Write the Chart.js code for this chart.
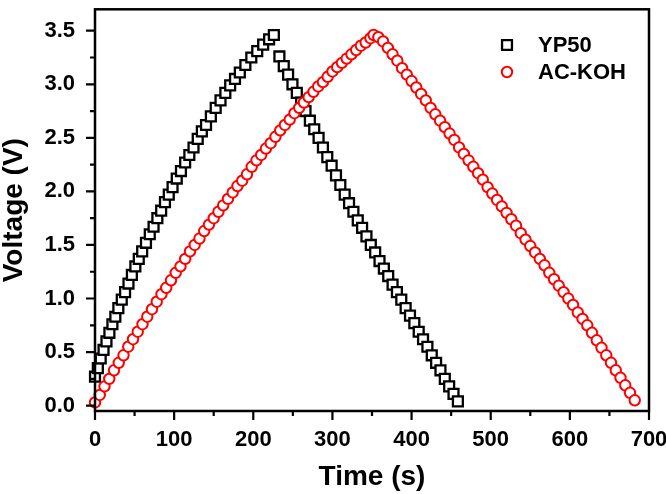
<!DOCTYPE html>
<html><head><meta charset="utf-8">
<script src="https://cdn.jsdelivr.net/npm/chart.js@4.4.1/dist/chart.umd.min.js"></script>
<style>html,body{margin:0;padding:0;background:#fff}#wrap{width:666px;height:494px;position:relative}</style>
</head><body><div id="wrap"><canvas id="c" width="666" height="494"></canvas></div>
<script>
const seriesNames = ['YP50', 'AC-KOH'];
const ypTime = [0,3.6,7.2,10.8,14.5,18.2,22,25.7,29.5,33.8,38,42.3,46.6,51,55.3,59.6,64.4,69.2,74,78.8,83.6,88.4,93.2,98,103.3,108.6,113.9,119.2,124.5,129.8,135,140.3,146.4,152.5,158.6,164.7,170.8,176.9,183,190,197.5,205,212.5,220,226,
  233,238.5,244,249.5,255,260.5,266,271.5,277,282.5,288,293.5,299,304.5,310,315.5,321,326.5,332,337.5,343,348.5,354,359.5,365,370.5,376,381.5,387,392.5,398,403.5,409,414.5,420,425.5,431,436.5,442,447.5,453,458.5];
const ypVoltage = [0.27,0.35,0.44,0.52,0.60,0.68,0.76,0.83,0.91,0.99,1.06,1.14,1.22,1.30,1.37,1.44,1.52,1.60,1.67,1.75,1.82,1.90,1.97,2.04,2.12,2.19,2.27,2.34,2.41,2.49,2.56,2.62,2.70,2.78,2.85,2.92,2.99,3.05,3.11,3.18,3.25,3.31,3.37,3.42,3.46,
  3.26,3.17,3.09,3.00,2.92,2.83,2.75,2.66,2.58,2.50,2.41,2.32,2.24,2.15,2.06,1.97,1.89,1.81,1.73,1.66,1.58,1.50,1.43,1.35,1.28,1.21,1.13,1.06,0.99,0.91,0.84,0.77,0.69,0.62,0.55,0.47,0.40,0.33,0.25,0.18,0.11,0.04];
const acTime = [0,6,12,18,24,30,36,42,48,54,60,66,72,78,84,90,96,102,108,114,120,126,132,138,144,150,156,162,168,174,180,186,192,198,204,210,216,222,228,234,240,246,252,258,264,270,276,282,288,294,300,306,312,318,324,330,336,342,348,352,
  358,364,370,376,382,388,394,400,406,412,418,424,430,436,442,448,454,460,466,472,478,484,490,496,502,508,514,520,526,532,538,544,550,556,562,568,574,580,586,592,598,604,610,616,622,628,634,640,646,652,658,664,670,676,682];
const acVoltage = [0.03,0.10,0.18,0.25,0.33,0.40,0.47,0.55,0.62,0.69,0.76,0.83,0.90,0.97,1.04,1.10,1.17,1.24,1.30,1.37,1.44,1.50,1.56,1.63,1.69,1.75,1.81,1.87,1.93,1.99,2.05,2.10,2.16,2.23,2.29,2.34,2.40,2.45,2.51,2.57,2.62,2.67,2.73,2.78,2.83,2.88,2.93,2.98,3.02,3.07,3.12,3.16,3.20,3.24,3.28,3.32,3.36,3.39,3.43,3.46,
  3.44,3.40,3.34,3.28,3.22,3.15,3.09,3.03,2.97,2.91,2.85,2.78,2.72,2.66,2.60,2.54,2.48,2.41,2.35,2.29,2.23,2.17,2.11,2.04,1.98,1.92,1.86,1.80,1.74,1.68,1.61,1.55,1.49,1.43,1.37,1.31,1.24,1.18,1.12,1.06,1.00,0.94,0.87,0.81,0.75,0.68,0.61,0.54,0.47,0.40,0.33,0.26,0.19,0.12,0.05];
const xTickValues = [0,100,200,300,400,500,600,700];
const xMinorValues = [50,150,250,350,450,550,650];
const yTickValues = [0,0.5,1.0,1.5,2.0,2.5,3.0,3.5];
const yTickLabels = ['0.0','0.5','1.0','1.5','2.0','2.5','3.0','3.5'];
const yMinorValues = [0.25,0.75,1.25,1.75,2.25,2.75,3.25];
const xTitle = 'Time (s)';
const yTitle = 'Voltage (V)';

const FONT = "'Liberation Sans', Arial, Helvetica, sans-serif";
const toPoints = (xs, ys) => xs.map((x, i) => ({x: x, y: ys[i]}));

const framePlugin = {
  id: 'frame',
  afterDraw(chart) {
    const ctx = chart.ctx, a = chart.chartArea;
    const xs = chart.scales.x, ys = chart.scales.y;
    ctx.save();
    ctx.strokeStyle = '#000';
    ctx.lineWidth = 2.5;
    ctx.strokeRect(a.left, a.top, a.right - a.left, a.bottom - a.top);
    ctx.lineWidth = 2.2;
    ctx.beginPath();
    xTickValues.forEach(v => { const p = xs.getPixelForValue(v); ctx.moveTo(p, a.bottom); ctx.lineTo(p, a.bottom + 9); });
    xMinorValues.forEach(v => { const p = xs.getPixelForValue(v); ctx.moveTo(p, a.bottom); ctx.lineTo(p, a.bottom + 5); });
    yTickValues.forEach(v => { const p = ys.getPixelForValue(v); ctx.moveTo(a.left, p); ctx.lineTo(a.left - 9, p); });
    yMinorValues.forEach(v => { const p = ys.getPixelForValue(v); ctx.moveTo(a.left, p); ctx.lineTo(a.left - 5, p); });
    ctx.stroke();
    // legend
    const lx = 507, ly0 = 45, dy = 27;
    chart.data.datasets.forEach((ds, i) => {
      const y = ly0 + i * dy;
      ctx.strokeStyle = ds.borderColor;
      ctx.fillStyle = '#fff';
      ctx.lineWidth = ds.pointBorderWidth;
      Chart.helpers.drawPoint(ctx, {pointStyle: ds.pointStyle, radius: ds.pointRadius, borderWidth: ds.pointBorderWidth, rotation: 0}, lx, y);
      ctx.fillStyle = '#000';
      ctx.font = 'bold 22px ' + FONT;
      ctx.textBaseline = 'middle';
      ctx.textAlign = 'left';
      ctx.fillText(ds.label, 538, y + 1);
    });
    ctx.restore();
  }
};

new Chart(document.getElementById('c'), {
  type: 'scatter',
  data: {
    datasets: [
      {label: seriesNames[0], data: toPoints(ypTime, ypVoltage), pointStyle: 'rect', pointRadius: 7, pointBorderWidth: 2.3,
       borderColor: '#000', backgroundColor: '#fff', pointBackgroundColor: '#fff', pointBorderColor: '#000', showLine: false, order: 2, clip: false},
      {label: seriesNames[1], data: toPoints(acTime, acVoltage), pointStyle: 'circle', pointRadius: 5.2, pointBorderWidth: 2,
       borderColor: '#ff0000', backgroundColor: '#fff', pointBackgroundColor: '#fff', pointBorderColor: '#ff0000', showLine: false, order: 1, clip: false}
    ]
  },
  options: {
    responsive: false,
    devicePixelRatio: 1,
    animation: false,
    layout: {padding: {top: -4, right: 17, left: 0, bottom: 0}},
    plugins: {legend: {display: false}, tooltip: {enabled: false}},
    scales: {
      x: {
        type: 'linear', min: 0, max: 700,
        afterBuildTicks: s => { s.ticks = xTickValues.map(v => ({value: v})); },
        afterFit: s => { s.height = 83; s.paddingLeft = 0; s.paddingRight = 0; },
        grid: {display: false, drawTicks: false},
        border: {display: false},
        ticks: {color: '#000', font: {family: FONT, weight: 'bold', size: 22}, padding: 16, maxRotation: 0, autoSkip: false,
                callback: v => String(v)},
        title: {display: true, text: xTitle, color: '#000', font: {family: FONT, weight: 'bold', size: 28, lineHeight: 1}, padding: {top: 3, bottom: 3}}
      },
      y: {
        type: 'linear', min: -0.05, max: 3.7,
        afterBuildTicks: s => { s.ticks = yTickValues.map(v => ({value: v})); },
        afterFit: s => { s.width = 95; s.paddingTop = 0; s.paddingBottom = 0; },
        grid: {display: false, drawTicks: false},
        border: {display: false},
        ticks: {color: '#000', font: {family: FONT, weight: 'bold', size: 22}, padding: 20, autoSkip: false,
                callback: (v, i) => yTickLabels[i]},
        title: {display: true, text: yTitle, color: '#000', font: {family: FONT, weight: 'bold', size: 28, lineHeight: 1}, padding: {top: 0, bottom: 0}}
      }
    }
  },
  plugins: [framePlugin]
});
</script>
</body></html>
